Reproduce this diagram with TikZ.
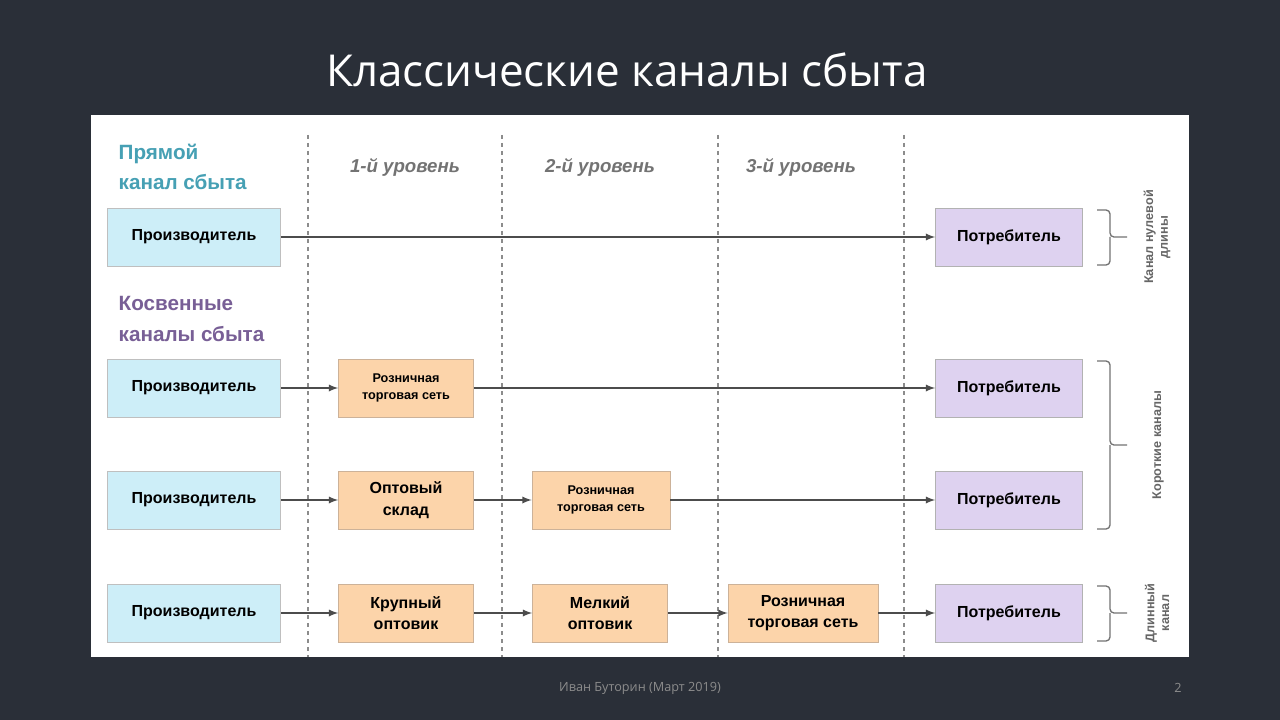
\documentclass[tikz,border=0pt]{standalone}
\usepackage{fontspec}
\setmainfont{Liberation Sans}
\newfontfamily\titlefont{Open Sans}
\begin{document}
\begin{tikzpicture}[x=0.75pt,y=-0.75pt,
 pbox/.style={draw=black!25,fill={rgb,255:red,205;green,238;blue,248},minimum width=173*0.75pt,minimum height=58*0.75pt,font=\bfseries\fontsize{12}{13}\selectfont,align=center},
 obox/.style={draw=orange!50!black!40,fill={rgb,255:red,252;green,212;blue,170},minimum height=58*0.75pt,font=\bfseries\fontsize{9.5}{13}\selectfont,align=center},
 cbox/.style={draw=black!30,fill={rgb,255:red,222;green,210;blue,240},minimum width=147*0.75pt,minimum height=58*0.75pt,font=\bfseries\fontsize{12}{13}\selectfont},
 conn/.style={draw=black!70,line width=1.4pt,-latex},
 lvl/.style={text=black!55,font=\bfseries\itshape\fontsize{14}{15}\selectfont},
 brace/.style={draw=black!55,line width=1pt},
 side/.style={text=black!60,font=\bfseries\fontsize{9.5}{11}\selectfont,rotate=90,align=center}]
\fill[fill={rgb,255:red,42;green,47;blue,56}] (0,0) rectangle (1280,720);
\useasboundingbox (0,0) rectangle (1280,720);
\fill[white] (91,115) rectangle (1189,657);
\node[text=white,font=\titlefont\fontsize{33}{38}\selectfont] (title) at (627,70) {Классические каналы сбыта};
\foreach \x in {308,502,718,904} \draw[black!45,dashed,line width=0.9pt] (\x,135) -- (\x,657);
\node[lvl] (l1) at (405,167) {1-й уровень};
\node[lvl] (l2) at (600,167) {2-й уровень};
\node[lvl] (l3) at (801,167) {3-й уровень};
\node[anchor=west,align=left,text={rgb,255:red,70;green,160;blue,180},font=\bfseries\fontsize{15.5}{23}\selectfont] (h1) at (114,167) {Прямой\\канал сбыта};
\node[anchor=west,align=left,text={rgb,255:red,120;green,95;blue,150},font=\bfseries\fontsize{15.5}{23}\selectfont] (h2) at (114,319) {Косвенные\\каналы сбыта};
\node[pbox] (p1) at (194,237) {Производитель};
\node[cbox] (c1) at (1009,237) {Потребитель};
\draw[conn] (p1) -- (c1);
\node[pbox] (p2) at (194,388) {Производитель};
\node[obox,minimum width=135*0.75pt] (r2) at (406,388) {Розничная\\торговая сеть};
\node[cbox] (c2) at (1009,388) {Потребитель};
\draw[conn] (p2) -- (r2); \draw[conn] (r2) -- (c2);
\node[pbox] (p3) at (194,500) {Производитель};
\node[obox,minimum width=135*0.75pt,font=\bfseries\fontsize{12}{16}\selectfont] (o3) at (406,500) {Оптовый\\склад};
\node[obox,minimum width=138*0.75pt] (r3) at (601,500) {Розничная\\торговая сеть};
\node[cbox] (c3) at (1009,500) {Потребитель};
\draw[conn] (p3) -- (o3); \draw[conn] (o3) -- (r3); \draw[conn] (r3) -- (c3);
\node[pbox] (p4) at (194,613) {Производитель};
\node[obox,minimum width=135*0.75pt,font=\bfseries\fontsize{12}{16}\selectfont] (k4) at (406,613) {Крупный\\оптовик};
\node[obox,minimum width=135*0.75pt,font=\bfseries\fontsize{12}{16}\selectfont] (m4) at (600,613) {Мелкий\\оптовик};
\node[obox,minimum width=150*0.75pt,font=\bfseries\fontsize{12}{16}\selectfont] (r4) at (803,613) {Розничная\\торговая сеть};
\node[cbox] (c4) at (1009,613) {Потребитель};
\draw[conn] (p4) -- (k4); \draw[conn] (k4) -- (m4); \draw[conn] (m4) -- (r4); \draw[conn] (r4) -- (c4);
\draw[brace,rounded corners=3pt] (1097,210) -- (1110,210) -- (1110,237) -- (1127,237) (1110,237) -- (1110,265) -- (1097,265);
\draw[brace,rounded corners=3pt] (1097,361) -- (1110,361) -- (1110,445) -- (1127,445) (1110,445) -- (1110,529) -- (1097,529);
\draw[brace,rounded corners=3pt] (1097,586) -- (1110,586) -- (1110,613) -- (1127,613) (1110,613) -- (1110,641) -- (1097,641);
\node[side] (s1) at (1157,237) {Канал нулевой\\длины};
\node[side] (s2) at (1158,445) {Короткие каналы};
\node[side] (s3) at (1157,613) {Длинный\\канал};
\node[text=black!45,font=\titlefont\fontsize{9.5}{11}\selectfont] (foot) at (640,688) {Иван Буторин (Март 2019)};
\node[text=black!45,font=\titlefont\fontsize{9.5}{11}\selectfont] (pg) at (1178,688) {2};
\end{tikzpicture}
\end{document}
